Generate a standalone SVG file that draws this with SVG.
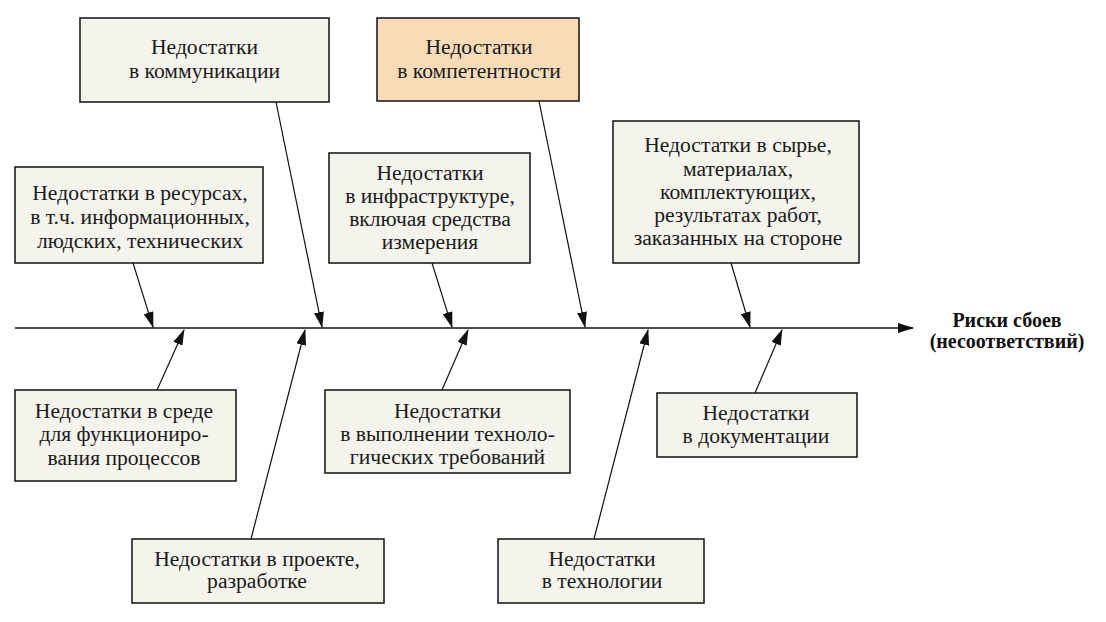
<svg xmlns="http://www.w3.org/2000/svg" width="1106" height="622" viewBox="0 0 1106 622">
<defs>
<marker id="ah" markerUnits="userSpaceOnUse" markerWidth="16" markerHeight="10" refX="15" refY="5" orient="auto">
<path d="M0,0 L16,5 L0,10 Z" fill="#111"/>
</marker>
<style>
.box{fill:#f4f4ec;stroke:#111;stroke-width:1.5}
.hl{fill:#f8dcb8;stroke:#111;stroke-width:1.5}
text{font-family:'Liberation Serif','Times New Roman',serif;font-size:21.6px;fill:#1a1a1a;text-anchor:middle}
.b{font-weight:bold;font-size:20px;fill:#111}
.c{stroke:#111;stroke-width:1.2;fill:none;marker-end:url(#ah)}
</style>
</defs>
<rect width="1106" height="622" fill="#fff"/>
<g id="connectors">
<line x1="15" y1="328" x2="913" y2="328" stroke="#111" stroke-width="1.5" marker-end="url(#ah)"/>
<line class="c" x1="133" y1="263" x2="153" y2="327"/>
<line class="c" x1="276" y1="102" x2="322" y2="327"/>
<line class="c" x1="432" y1="263" x2="452" y2="327"/>
<line class="c" x1="539" y1="101" x2="585" y2="327"/>
<line class="c" x1="731" y1="263" x2="750" y2="327"/>
<line class="c" x1="157" y1="390" x2="184" y2="330"/>
<line class="c" x1="251" y1="539" x2="305" y2="330"/>
<line class="c" x1="442" y1="390" x2="468" y2="330"/>
<line class="c" x1="594" y1="539" x2="648" y2="330"/>
<line class="c" x1="755" y1="393" x2="782" y2="330"/>
</g>
<g id="n-communication">
<rect class="box" x="80" y="18" width="249" height="84"/>
<text x="204.5" y="54">Недостатки</text>
<text x="204.5" y="78">в коммуникации</text>
</g>
<g id="n-competence">
<rect class="hl" x="377" y="18" width="202" height="83"/>
<text x="479" y="54">Недостатки</text>
<text x="479" y="78">в компетентности</text>
</g>
<g id="n-resources">
<rect class="box" x="15" y="167" width="248" height="96"/>
<text x="140" y="200">Недостатки в ресурсах,</text>
<text x="140" y="224">в т.ч. информационных,</text>
<text x="140" y="248">людских, технических</text>
</g>
<g id="n-infrastructure">
<rect class="box" x="329" y="153" width="201" height="110"/>
<text x="430" y="180">Недостатки</text>
<text x="430" y="203">в инфраструктуре,</text>
<text x="430" y="226">включая средства</text>
<text x="430" y="249">измерения</text>
</g>
<g id="n-materials">
<rect class="box" x="613" y="121" width="246" height="142"/>
<text x="738" y="152">Недостатки в сырье,</text>
<text x="738" y="176">материалах,</text>
<text x="738" y="199">комплектующих,</text>
<text x="738" y="222">результатах работ,</text>
<text x="738" y="245">заказанных на стороне</text>
</g>
<g id="n-result">
<text class="b" x="1007" y="327">Риски сбоев</text>
<text class="b" x="1007" y="348">(несоответствий)</text>
</g>
<g id="n-environment">
<rect class="box" x="15" y="390" width="221" height="91"/>
<text x="124" y="418">Недостатки в среде</text>
<text x="124" y="441">для функциониро-</text>
<text x="124" y="465">вания процессов</text>
</g>
<g id="n-execution">
<rect class="box" x="325" y="390" width="245" height="83"/>
<text x="447.5" y="418">Недостатки</text>
<text x="447.5" y="441">в выполнении техноло-</text>
<text x="447.5" y="464">гических требований</text>
</g>
<g id="n-documentation">
<rect class="box" x="657" y="393" width="200" height="64"/>
<text x="756" y="420">Недостатки</text>
<text x="756" y="443">в документации</text>
</g>
<g id="n-design">
<rect class="box" x="132" y="539" width="252" height="64"/>
<text x="257" y="566">Недостатки в проекте,</text>
<text x="257" y="588">разработке</text>
</g>
<g id="n-technology">
<rect class="box" x="498" y="539" width="206" height="64"/>
<text x="602" y="566">Недостатки</text>
<text x="602" y="588">в технологии</text>
</g>
</svg>
